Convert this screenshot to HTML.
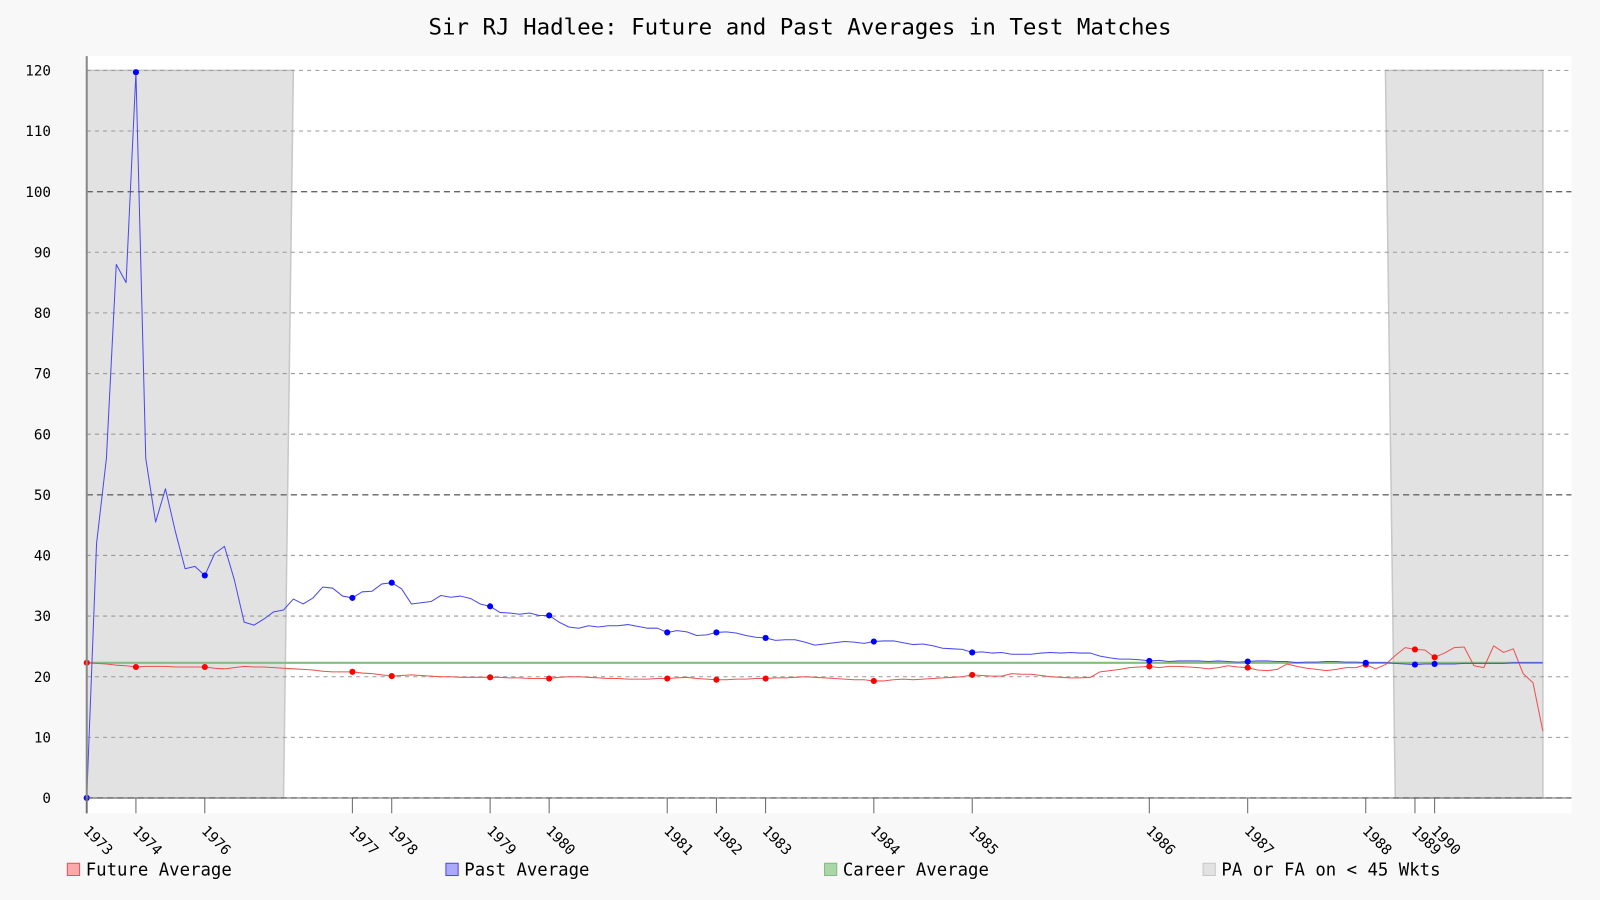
<!DOCTYPE html>
<html><head><meta charset="utf-8">
<style>
body{margin:0;background:#f8f8f8;}
svg{display:block;font-family:"DejaVu Sans Mono","Liberation Mono",monospace;}
</style></head>
<body>
<svg id="chart" width="1600" height="900" viewBox="0 0 1568 882" preserveAspectRatio="none" xmlns="http://www.w3.org/2000/svg">
<rect x="0" y="0" width="1568" height="882" fill="#f8f8f8"/>
<text x="784" y="34" text-anchor="middle" font-size="22" fill="#000">Sir RJ Hadlee: Future and Past Averages in Test Matches</text>
<rect x="85" y="55" width="1455" height="742" fill="#fff"/>
<g id="bands"></g><g id="grid"></g><g id="series"></g><g id="axes"></g><g id="legend"></g>
</svg>
<script>
const pastAvg=[0,42,56,88,85,119.7,56,45.5,51,44,37.8,38.2,36.7,40.3,41.5,36,29,28.5,29.5,30.7,31,32.8,32,33,34.8,34.6,33.3,33.0,34,34.1,35.3,35.5,34.5,32,32.2,32.4,33.4,33.1,33.3,32.9,32,31.6,30.6,30.5,30.3,30.5,30.1,30.1,29,28.2,28,28.4,28.2,28.4,28.4,28.6,28.3,28,28,27.3,27.6,27.4,26.8,26.9,27.3,27.4,27.2,26.8,26.5,26.4,26,26.1,26.1,25.7,25.2,25.4,25.6,25.8,25.7,25.5,25.8,25.9,25.9,25.6,25.3,25.4,25.1,24.7,24.6,24.5,24,24.1,23.9,24,23.7,23.7,23.7,23.9,24,23.9,24,23.9,23.9,23.4,23.1,22.9,22.9,22.8,22.6,22.7,22.5,22.6,22.6,22.6,22.5,22.6,22.5,22.4,22.5,22.6,22.6,22.5,22.5,22.3,22.4,22.4,22.5,22.5,22.4,22.4,22.3,22.3,22.3,22.2,22.1,22.0,22.1,22.1,22.1,22.1,22.2,22.2,22.2,22.2,22.2,22.3,22.3,22.3,22.3];
const futureAvg=[22.3,22.2,22.1,21.9,21.8,21.6,21.7,21.7,21.7,21.6,21.6,21.6,21.6,21.4,21.3,21.5,21.7,21.6,21.6,21.5,21.4,21.3,21.2,21.1,20.9,20.8,20.8,20.8,20.6,20.5,20.3,20.1,20.2,20.3,20.2,20.1,20.0,20.0,19.9,19.9,19.9,19.9,19.9,19.8,19.8,19.7,19.7,19.7,19.9,20.0,20.0,19.9,19.8,19.7,19.7,19.6,19.6,19.6,19.7,19.7,19.8,19.9,19.7,19.6,19.5,19.5,19.6,19.6,19.7,19.7,19.8,19.8,19.9,20.0,19.9,19.8,19.7,19.6,19.5,19.5,19.3,19.3,19.5,19.6,19.5,19.6,19.7,19.8,19.9,20.0,20.3,20.2,20.1,20.1,20.5,20.4,20.4,20.2,20.0,19.9,19.8,19.8,19.9,20.8,21.0,21.2,21.5,21.6,21.7,21.5,21.7,21.7,21.6,21.5,21.3,21.5,21.8,21.6,21.5,21.1,21.0,21.2,22.1,21.7,21.4,21.2,21.0,21.2,21.5,21.5,22.0,21.3,22.0,23.5,24.8,24.5,24.4,23.2,23.9,24.8,24.9,21.8,21.5,25.1,24.0,24.6,20.5,19.0,11.0];
const careerAvg=22.29;
const yTicks=[0,10,20,30,40,50,60,70,80,90,100,110,120];
const yearLabels=["1973","1974","1976","1977","1978","1979","1980","1981","1982","1983","1984","1985","1986","1987","1988","1989","1990"];
const yearIdx=[0,5,12,27,31,41,47,59,64,69,80,90,108,118,130,135,137];
const bandLeft=[0,21,20];
const bandRight=[132,133,148];
const bandMax=120;

const NS="http://www.w3.org/2000/svg";
const n=pastAvg.length;
const X=i=>85+i*(1512-85)/(n-1);
const Y=v=>782-v*(782-69)/120;
function mk(tag,attrs,parent){const e=document.createElementNS(NS,tag);for(const k in attrs)e.setAttribute(k,attrs[k]);parent.appendChild(e);return e;}
const G=id=>document.getElementById(id);

let p1=mk('polygon',{points:`${X(0)},${Y(bandMax)} ${X(bandLeft[1])},${Y(bandMax)} ${X(bandLeft[2])},${Y(0)} ${X(0)},${Y(0)}`,fill:'#e2e2e2',stroke:'#c8c8c8','stroke-width':1.5},G('bands'));


let p2=mk('polygon',{points:`${X(bandRight[0])},${Y(bandMax)} ${X(bandRight[2])},${Y(bandMax)} ${X(bandRight[2])},${Y(0)} ${X(bandRight[1])},${Y(0)}`,fill:'#e2e2e2',stroke:'#c8c8c8','stroke-width':1.5},G('bands'));



yTicks.forEach(t=>{
  const major=t%50===0;
  let l=mk('line',{x1:85,x2:1540,y1:Y(t),y2:Y(t),stroke:major?'#666':'#999','stroke-dasharray':major?'6,4':'4,4','stroke-width':major?1.3:1},G('grid'));
  
  
  let tx=mk('text',{x:50,y:Y(t)+5,'text-anchor':'end','font-size':14,fill:'#000'},G('axes'));
  tx.textContent=t;
  
  
});

let cl=mk('line',{x1:X(0),x2:X(n-1),y1:Y(careerAvg),y2:Y(careerAvg),stroke:'#7fbf7f','stroke-width':2},G('series'));



function line(arr,color,name){
  let pl=mk('polyline',{points:arr.map((v,i)=>X(i)+','+Y(v)).join(' '),fill:'none',stroke:color,'stroke-width':1,'stroke-linejoin':'round'},G('series'));
  
  
}
line(futureAvg,'#f05050','future-average-line');
line(pastAvg,'#4a4aee','past-average-line');
yearIdx.forEach(i=>{
  let c=mk('circle',{cx:X(i),cy:Y(futureAvg[i]),r:3,fill:'#f00'},G('series'));
  
  
  let d=mk('circle',{cx:X(i),cy:Y(pastAvg[i]),r:3,fill:'#00f'},G('series'));
  
  
});

let ya=mk('line',{x1:85,x2:85,y1:55,y2:797,stroke:'#888','stroke-width':2},G('axes'));


let xa=mk('line',{x1:85,x2:1540,y1:782,y2:782,stroke:'#666','stroke-width':1},G('axes'));


yearLabels.forEach((lab,k)=>{
  const x=X(yearIdx[k]);
  let tk=mk('line',{x1:x,x2:x,y1:782,y2:797,stroke:'#666'},G('axes'));
  
  
  let t=mk('text',{x:x-4,y:815,'font-size':14,fill:'#000',transform:`rotate(45 ${x-4} 815)`},G('axes'));
  t.textContent=lab;
  
  
});

const legNames=['Future Average','Past Average','Career Average','PA or FA on < 45 Wkts'];
const legFill=['#f9aaaa','#aaaaf9','#aad6aa','#e2e2e2'];
const legStroke=['#f05050','#4a4aee','#7fbf7f','#c8c8c8'];
const legX=[66,437,808,1179];
legNames.forEach((nm,k)=>{
  let g=mk('g',{},G('legend'));
  
  
  mk('rect',{x:legX[k],y:846,width:12,height:12,fill:legFill[k],stroke:legStroke[k],'stroke-width':1},g);
  let t=mk('text',{x:legX[k]+18,y:858,'font-size':17,fill:'#000'},g);
  t.textContent=nm;
});
</script>
</body></html>
